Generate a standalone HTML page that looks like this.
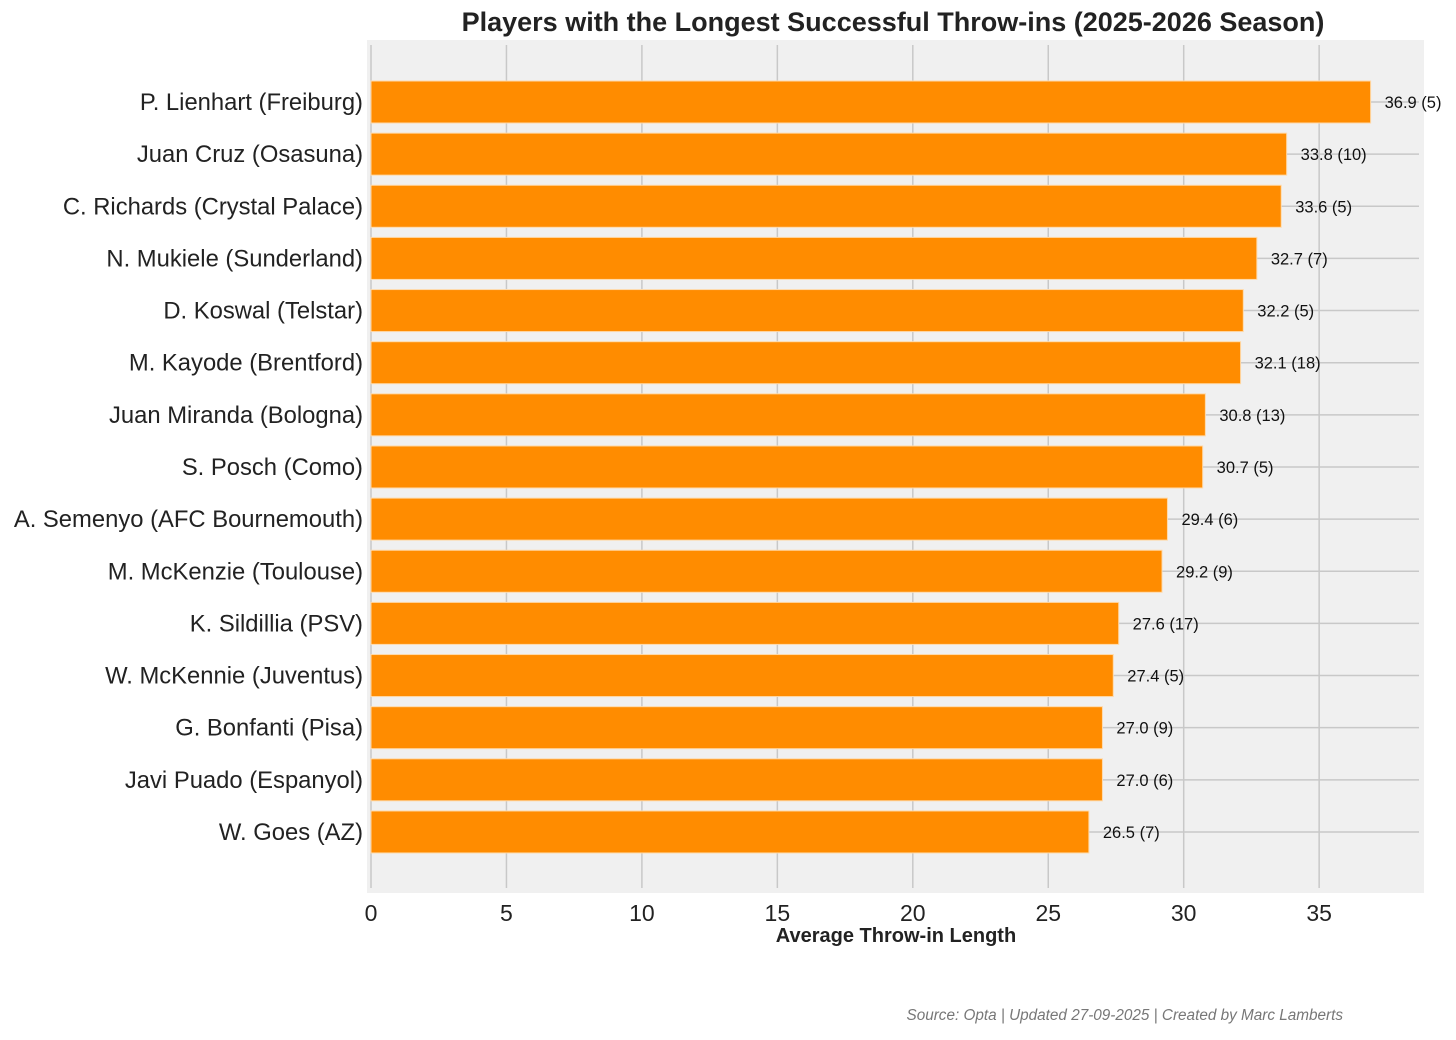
<!DOCTYPE html>
<html><head><meta charset="utf-8"><style>
body{margin:0;background:#fff;}
svg text{font-family:"Liberation Sans",Arial,sans-serif;}
</style></head><body>
<svg id="chart" width="1456" height="1035" xmlns="http://www.w3.org/2000/svg">
<rect width="1456" height="1035" fill="#fff"/>
<rect x="367" y="40" width="1057" height="853" fill="#f0f0f0"/>
<g id="grid"></g><g id="bars"></g><g id="labels"></g><g id="ticks"></g>
<text x="893" y="31" text-anchor="middle" font-size="27" font-weight="bold" fill="#222">Players with the Longest Successful Throw-ins (2025-2026 Season)</text>
<text x="896" y="942" text-anchor="middle" font-size="20" font-weight="bold" fill="#222">Average Throw-in Length</text>
<text x="1343" y="1020" text-anchor="end" font-size="15.3" font-style="italic" fill="#777">Source: Opta | Updated 27-09-2025 | Created by Marc Lamberts</text>
</svg>
<script>
const players=["P. Lienhart (Freiburg)","Juan Cruz (Osasuna)","C. Richards (Crystal Palace)","N. Mukiele (Sunderland)","D. Koswal (Telstar)","M. Kayode (Brentford)","Juan Miranda (Bologna)","S. Posch (Como)","A. Semenyo (AFC Bournemouth)","M. McKenzie (Toulouse)","K. Sildillia (PSV)","W. McKennie (Juventus)","G. Bonfanti (Pisa)","Javi Puado (Espanyol)","W. Goes (AZ)"];
const lengths=[36.9,33.8,33.6,32.7,32.2,32.1,30.8,30.7,29.4,29.2,27.6,27.4,27.0,27.0,26.5];
const counts=[5,10,5,7,5,18,13,5,6,9,17,5,9,6,7];
const xTicks=[0,5,10,15,20,25,30,35];
const NS="http://www.w3.org/2000/svg";
const x=v=>371+v*27.09;
const y=i=>102+i*52.14;
const bh=42;
function mk(t,a,p){const e=document.createElementNS(NS,t);for(const k in a)e.setAttribute(k,a[k]);document.getElementById(p).appendChild(e);return e;}
xTicks.forEach(t=>{
 const g=mk('line',{x1:x(t),x2:x(t),y1:45,y2:888,stroke:'#c8c8c8','stroke-width':1.5},'grid');
 
 
 const tl=mk('text',{x:x(t),y:921,'text-anchor':'middle','font-size':23,fill:'#222'},'ticks');
 tl.textContent=t;
 
 
});
players.forEach((p,i)=>{
 const g=mk('line',{x1:371,x2:1419,y1:y(i),y2:y(i),stroke:'#c8c8c8','stroke-width':1.5},'grid');
 
 
 const b=mk('rect',{x:x(0),y:y(i)-bh/2,width:x(lengths[i])-x(0),height:bh,fill:'#ff8c00',stroke:'#ffd9a8','stroke-width':1},'bars');
 
 
 const l=mk('text',{x:x(lengths[i])+14,y:y(i)+6,'font-size':16.5,fill:'#111'},'labels');
 l.textContent=lengths[i].toFixed(1)+' ('+counts[i]+')';
 
 
 const tl=mk('text',{x:363,y:y(i)+8,'text-anchor':'end','font-size':23.8,fill:'#222'},'ticks');
 tl.textContent=p;
 
 
});
</script>
</body></html>
